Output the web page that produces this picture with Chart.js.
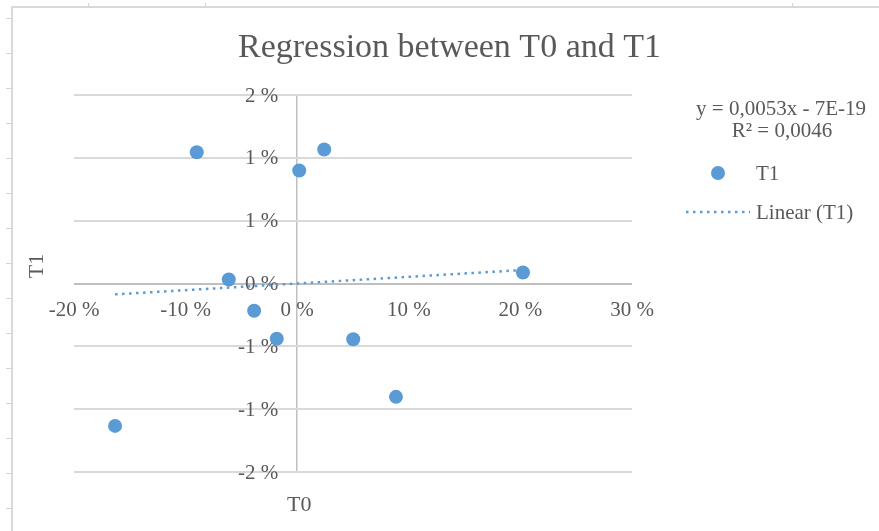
<!DOCTYPE html>
<html>
<head>
<meta charset="utf-8">
<script src="https://cdn.jsdelivr.net/npm/chart.js@4.4.1/dist/chart.umd.min.js"></script>
<style>
  html, body { margin: 0; padding: 0; background: #fff; }
  body {
    width: 879px; height: 531px; position: relative; overflow: hidden;
    font-family: "Liberation Serif", "Times New Roman", serif; color: #595959;
  }
  #frame {
    position: absolute; left: 11px; top: 6px; right: -10px; bottom: -10px;
    border-left: 2px solid #d9d9d9; border-top: 2px solid #d9d9d9;
  }
  #rulerLeft {
    position: absolute; left: 6px; top: 1px; width: 5px; height: 530px;
    background: repeating-linear-gradient(to bottom,
      transparent 0, transparent 17px, #d4d4d4 17px, #d4d4d4 18px, transparent 18px, transparent 35px);
  }
  .rulerTop { position: absolute; top: 3px; width: 1px; height: 4px; background: #d4d4d4; }
  #wrap { position: absolute; left: 20px; top: 0; width: 859px; height: 531px; }
  .legendText { position: absolute; font-size: 21px; line-height: 22px; white-space: nowrap; color: #595959; }
  .centered { transform: translate(-50%, -50%); }
  .leftMid { transform: translateY(-50%); }
  #legendMarker {
    position: absolute; left: 711px; top: 166px; width: 14px; height: 14px;
    border-radius: 50%; background: #5b9bd5;
  }
  #legendLine { position: absolute; left: 686px; top: 210px; }
</style>
</head>
<body>
<div id="frame"></div>
<div id="rulerLeft"></div>
<div class="rulerTop" style="left:88px"></div>
<div class="rulerTop" style="left:205px"></div>
<div class="rulerTop" style="left:792px"></div>

<div id="wrap"><canvas id="chart" width="859" height="531"></canvas></div>

<div class="legendText centered" id="eqLine" style="left:781px; top:108px;"></div>
<div class="legendText centered" id="r2Line" style="left:782px; top:130px;"></div>
<div id="legendMarker"></div>
<div class="legendText leftMid" style="left:756px; top:173px;">T1</div>
<svg id="legendLine" width="64" height="4"><line x1="0" y1="2" x2="64" y2="2" stroke="#5b9bd5" stroke-width="2.5" stroke-dasharray="2.5 4.5"/></svg>
<div class="legendText leftMid" style="left:756px; top:212px;">Linear (T1)</div>

<script>
// Returns of T0 and T1, in percent
const t0Values = [-9.0, 2.42, 0.18, -6.13, 20.23, -3.86, -1.83, 5.02, 8.85, -16.32];
const t1Values = [1.044, 1.066, 0.899, 0.032, 0.087, -0.217, -0.44, -0.444, -0.902, -1.133];

// Linear trendline fitted to T1 on T0
const trendSlope = 0.0053;
const trendIntercept = -7e-19;
const rSquared = 0.0046;

// Axis ticks (percent) and their labels
const xTicks = [-20, -10, 0, 10, 20, 30];
const xTickLabels = ['-20 %', '-10 %', '0 %', '10 %', '20 %', '30 %'];
const yTicks = [-1.5, -1, -0.5, 0, 0.5, 1, 1.5];
const yTickLabels = ['-2 %', '-1 %', '-1 %', '0 %', '1 %', '1 %', '2 %'];

const blue = '#5b9bd5';
const textGrey = '#595959';
const serif = '"Liberation Serif", "Times New Roman", serif';

const fmt = (v, d) => v.toFixed(d).replace('.', ',');
document.getElementById('eqLine').textContent = 'y = ' + fmt(trendSlope, 4) + 'x - 7E-19';
document.getElementById('r2Line').textContent = 'R\u00B2 = ' + fmt(rSquared, 4);

const points = t0Values.map((x, i) => ({ x, y: t1Values[i] }));
const xMin = Math.min(...t0Values), xMax = Math.max(...t0Values);
const trendPoints = [xMin, xMax].map(x => ({ x, y: trendSlope * x + trendIntercept * 100 }));

// Tick labels sit next to the axes that cross at zero; axis titles placed by hand
const axisText = {
  id: 'axisText',
  beforeDatasetsDraw(chart) {
    const { ctx, scales: { x, y } } = chart;
    const x0 = x.getPixelForValue(0);
    const y0 = y.getPixelForValue(0);
    ctx.save();
    ctx.fillStyle = textGrey;
    ctx.font = '21px ' + serif;
    ctx.textBaseline = 'middle';
    ctx.textAlign = 'right';
    yTicks.forEach((v, i) => ctx.fillText(yTickLabels[i], x0 - 19, y.getPixelForValue(v) + 1));
    ctx.textAlign = 'center';
    xTicks.forEach((v, i) => ctx.fillText(xTickLabels[i], x.getPixelForValue(v), y0 + 27));
    ctx.font = '22px ' + serif;
    ctx.fillText('T0', x0 + 2, 505);
    ctx.translate(17, 266);
    ctx.rotate(-Math.PI / 2);
    ctx.fillText('T1', 0, 0);
    ctx.restore();
  }
};

new Chart(document.getElementById('chart'), {
  type: 'scatter',
  data: {
    datasets: [
      {
        label: 'T1',
        data: points,
        pointRadius: 7,
        pointHoverRadius: 7,
        pointBackgroundColor: blue,
        pointBorderWidth: 0,
        order: 2
      },
      {
        label: 'Linear (T1)',
        data: trendPoints,
        showLine: true,
        pointRadius: 0,
        borderColor: blue,
        borderWidth: 2.5,
        borderDash: [2.5, 4.5],
        order: 1
      }
    ]
  },
  options: {
    responsive: false,
    animation: false,
    events: [],
    layout: { padding: { left: 0, right: 0, top: 0, bottom: 59 } },
    plugins: {
      legend: { display: false },
      tooltip: { enabled: false },
      title: {
        display: true,
        text: 'Regression between T0 and T1',
        color: textGrey,
        font: { family: serif, size: 34, weight: 'normal', lineHeight: 1.2 },
        padding: { top: 28, bottom: 26.2 }
      }
    },
    scales: {
      x: {
        type: 'linear',
        min: -20, max: 30,
        afterBuildTicks: s => { s.ticks = xTicks.map(value => ({ value })); },
        ticks: { display: false },
        border: { display: false },
        grid: {
          drawTicks: false,
          lineWidth: 1.5,
          color: c => (c.tick && c.tick.value === 0 ? '#bfbfbf' : 'rgba(0,0,0,0)')
        }
      },
      y: {
        type: 'linear',
        min: -1.5, max: 1.5,
        afterBuildTicks: s => { s.ticks = yTicks.map(value => ({ value })); },
        afterFit: s => { s.width = 54; },
        ticks: { display: false },
        border: { display: false },
        grid: {
          drawTicks: false,
          lineWidth: 2,
          color: c => (c.tick && c.tick.value === 0 ? '#bfbfbf' : '#d9d9d9')
        }
      },
      // empty right-hand scale that reserves room for the legend column
      legendSpace: {
        type: 'linear',
        position: 'right',
        afterFit: s => { s.width = 247; },
        ticks: { display: false },
        border: { display: false },
        grid: { display: false, drawTicks: false }
      }
    }
  },
  plugins: [axisText]
});
</script>
</body>
</html>
